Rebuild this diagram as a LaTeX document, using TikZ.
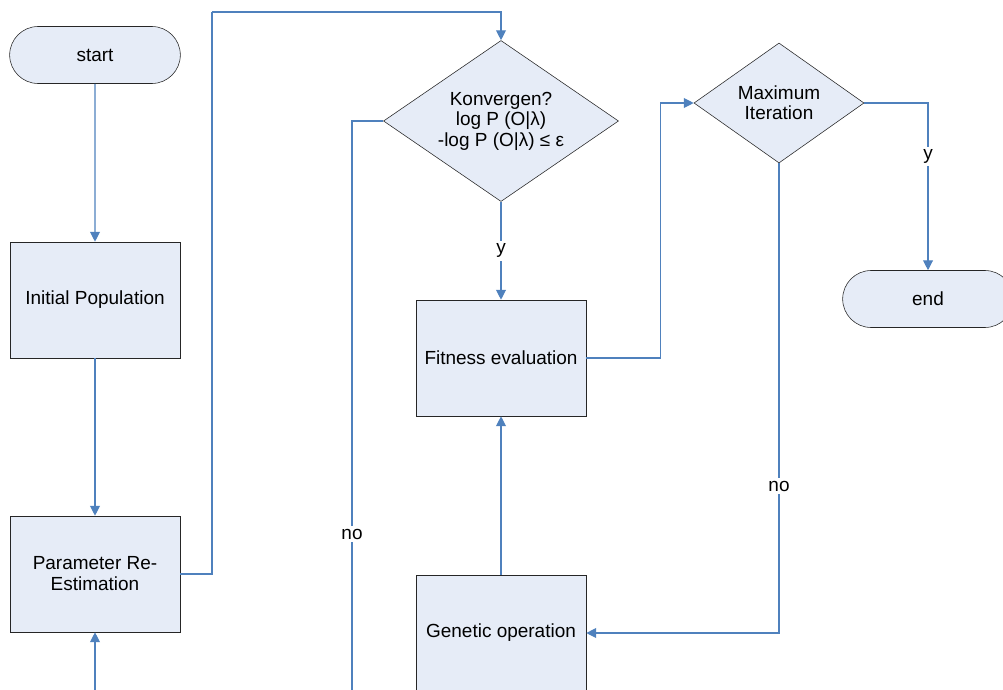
\documentclass[tikz,border=0pt]{standalone}
\usepackage{amsmath, amssymb}
\usepackage{fontspec}
\setmainfont{Liberation Sans}
\usetikzlibrary{shapes.geometric, shapes.misc, arrows.meta}

\definecolor{boxfill}{RGB}{230,236,247}
\definecolor{flowblue}{RGB}{79,129,189}

\tikzset{
  procbox/.style={draw=black!85, fill=boxfill, rectangle, minimum width=4.25cm,
    minimum height=2.9cm, align=center, font=\fontsize{13.5}{15}\selectfont},
  termbox/.style={draw=black!85, fill=boxfill, rounded rectangle, minimum width=4.5cm,
    minimum height=1.425cm, font=\fontsize{13.5}{15}\selectfont},
  decbox/.style={draw=black!85, fill=boxfill, diamond, inner sep=0pt, align=center,
    font=\fontsize{13.5}{14.5}\selectfont},
  flow/.style={draw=flowblue, line width=0.8pt, -{Triangle[length=7pt,width=7pt]}},
  flowline/.style={draw=flowblue, line width=0.8pt},
  lbl/.style={fill=white, inner sep=2pt, font=\fontsize{13.5}{15}\selectfont}
}

\begin{document}
\begin{tikzpicture}[x=0.025cm, y=-0.025cm]

  % Marco de la figura
  \useasboundingbox (0,0) rectangle (1003,689);

  % Columna izquierda
  \node[termbox] (start) at (95,55) {start};
  \node[procbox] (init) at (95,300) {Initial Population};
  \node[procbox] (param) at (95,574) {Parameter Re-\\Estimation};
  \coordinate (inbot) at (95,700);

  % Columna central
  \node[decbox, aspect=1.46, minimum width=5.875cm, minimum height=4.025cm] (konv) at (501,121)
    {Konvergen?\\log P (O|λ)\\-log P (O|λ) ≤ ε};
  \node[procbox] (fit) at (501,358) {Fitness evaluation};
  \node[procbox] (gen) at (501,633) {Genetic operation};
  \coordinate (ctop) at (212,12);
  \coordinate (nobot) at (352,700);

  % Columna derecha
  \node[decbox, aspect=1.42, minimum width=4.25cm, minimum height=3.0cm] (maxit) at (779,103)
    {Maximum\\Iteration};
  \node[termbox] (end) at (928,299) {end};

  % Conexiones
  \draw[flow] (start) -- (init);
  \draw[flow] (init) -- (param);
  \draw[flow] (inbot) -- (param);
  \draw[flowline] (param.east) -| (ctop);
  \draw[flow] (ctop) -| (konv.north);
  \draw[flowline] (konv.west) -| (nobot) node[lbl, pos=0.857] {no};
  \draw[flow] (konv.south) -- (fit.north) node[lbl, midway] {y};
  \draw[flow] (fit.east) -| ++(74,0) |- (maxit.west);
  \draw[flow] (maxit.east) -| (end.north) node[lbl, pos=0.66] {y};
  \draw[flow] (maxit.south) |- (gen.east) node[lbl, pos=0.344] {no};
  \draw[flow] (gen) -- (fit);

\end{tikzpicture}
\end{document}
